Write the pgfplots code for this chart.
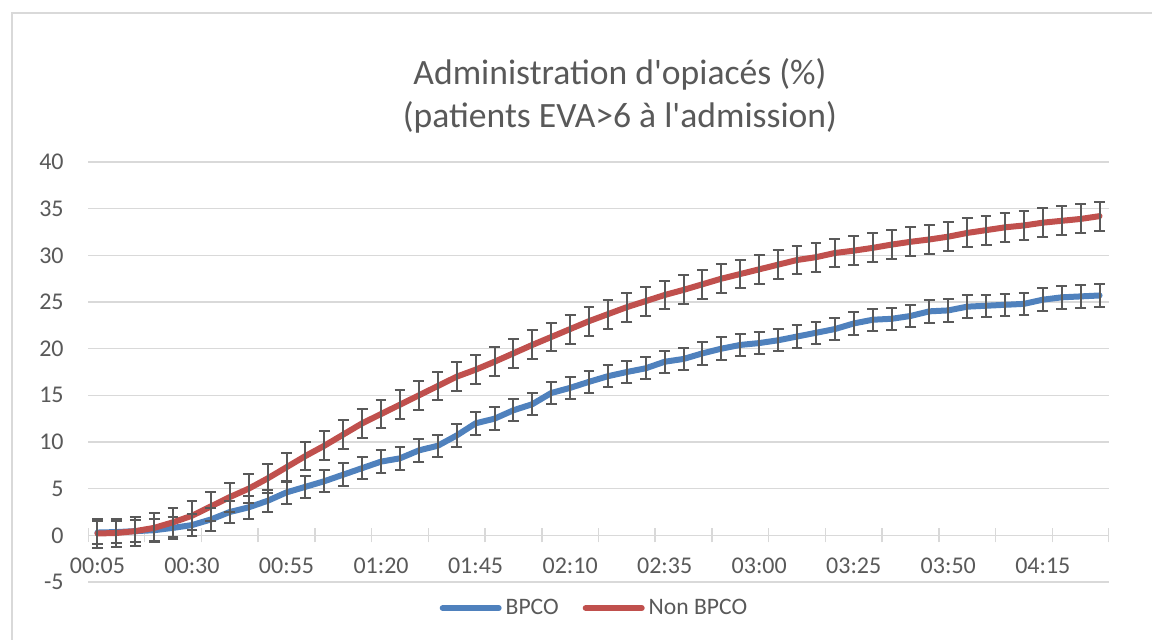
\documentclass[border=0pt]{standalone}
\usepackage{pgfplots}
\pgfplotsset{compat=1.18}
\usepackage{pgfplotstable}
\usepackage{fontspec}
\setmainfont{Carlito}[Ligatures=TeXOff]
\definecolor{txt}{HTML}{595959}
\definecolor{gridc}{HTML}{D9D9D9}
\definecolor{bl}{HTML}{4F81BD}
\definecolor{rd}{HTML}{C0504D}
\definecolor{eb}{HTML}{595959}

\pgfplotstableread{
x b r
0 0.3 0.2
1 0.35 0.25
2 0.45 0.45
3 0.55 0.8
4 0.8 1.4
5 1.1 2.1
6 1.7 3.1
7 2.5 4.1
8 3.0 5.0
9 3.7 6.1
10 4.6 7.3
11 5.2 8.5
12 5.8 9.6
13 6.5 10.8
14 7.2 12.0
15 7.9 13.0
16 8.25 14.0
17 9.1 15.0
18 9.6 16.0
19 10.7 17.0
20 12.0 17.75
21 12.5 18.6
22 13.4 19.5
23 14.05 20.4
24 15.25 21.25
25 15.8 22.1
26 16.45 22.95
27 17.05 23.7
28 17.5 24.45
29 17.9 25.1
30 18.6 25.75
31 18.9 26.3
32 19.5 26.9
33 20.0 27.5
34 20.4 28.0
35 20.6 28.5
36 20.9 29.0
37 21.3 29.5
38 21.7 29.8
39 22.1 30.25
40 22.7 30.5
41 23.1 30.8
42 23.2 31.15
43 23.5 31.45
44 24.0 31.7
45 24.1 32.0
46 24.5 32.4
47 24.6 32.7
48 24.7 33.0
49 24.8 33.2
50 25.25 33.5
51 25.5 33.7
52 25.6 33.9
53 25.7 34.2
}\data

\begin{document}
\begin{tikzpicture}
\path[use as bounding box] (0,0) rectangle (576pt,319.5pt);
\draw[gridc, line width=0.75pt] (6pt,-10pt) -- (6pt,313pt) -- (700pt,313pt);
\node[text=txt, font=\fontsize{17.8}{21}\selectfont, anchor=base, inner sep=0pt] at (310pt,277.25pt) {Administration d'opiacés (\%)};
\node[text=txt, font=\fontsize{17.8}{21}\selectfont, anchor=base, inner sep=0pt] at (310pt,255.5pt) {(patients EVA>6 à l'admission)};
\begin{axis}[
  at={(44pt,28.5pt)}, anchor=south west,
  scale only axis, width=510.5pt, height=210pt,
  xmin=-0.5, xmax=53.5, ymin=-5, ymax=40,
  axis line style={draw=none},
  ytick={-5,0,5,10,15,20,25,30,35,40},
  yticklabels={-5,0,5,10,15,20,25,30,35,40},
  xtick={0,5,10,15,20,25,30,35,40,45,50},
  xticklabels={00:05,00:30,00:55,01:20,01:45,02:10,02:35,03:00,03:25,03:50,04:15},
  major tick length=0pt,
  ymajorgrids, grid style={gridc, line width=0.75pt},
  tick label style={text=txt, font=\fontsize{12}{14}\selectfont},
  xticklabel style={anchor=base, yshift=4.5pt, inner sep=0pt},
  yticklabel style={anchor=east, inner sep=0pt, xshift=-12pt},
  legend style={at={(0.497,-0.062)}, anchor=center, draw=none, fill=none,
    legend columns=2, font=\fontsize{11.8}{13}\selectfont, text=txt,
    /tikz/every even column/.append style={column sep=10pt}},
  legend image code/.code={\draw[#1] (0pt,0pt) -- (28pt,0pt);},
]
\draw[gridc, line width=0.75pt] (axis cs:-0.5,0) -- (axis cs:53.5,0);
\pgfplotsinvokeforeach{-0.5,2.5,5.5,8.5,11.5,14.5,17.5,20.5,23.5,26.5,29.5,32.5,35.5,38.5,41.5,44.5,47.5,50.5,53.5}{
  \draw[gridc, line width=0.75pt] ([yshift=-3.5pt]axis cs:#1,0) -- ([yshift=3.5pt]axis cs:#1,0);
}
\addplot[bl, line width=3pt, line cap=round, line join=round, no markers] table[x=x,y=b]{\data};
\addlegendentry{BPCO}
\addplot[rd, line width=3pt, line cap=round, line join=round, no markers] table[x=x,y=r]{\data};
\addlegendentry{Non BPCO}
\addplot[draw=none, no markers, forget plot,
  error bars/.cd, y dir=both, y fixed=1.2,
  error bar style={draw=eb, line width=1pt},
  error mark options={rotate=90, draw=eb, mark size=2.7pt, line width=1pt}] table[x=x,y=b]{\data};
\addplot[draw=none, no markers, forget plot,
  error bars/.cd, y dir=both, y fixed=1.55,
  error bar style={draw=eb, line width=1pt},
  error mark options={rotate=90, draw=eb, mark size=2.7pt, line width=1pt}] table[x=x,y=r]{\data};
\end{axis}
\end{tikzpicture}
\end{document}
